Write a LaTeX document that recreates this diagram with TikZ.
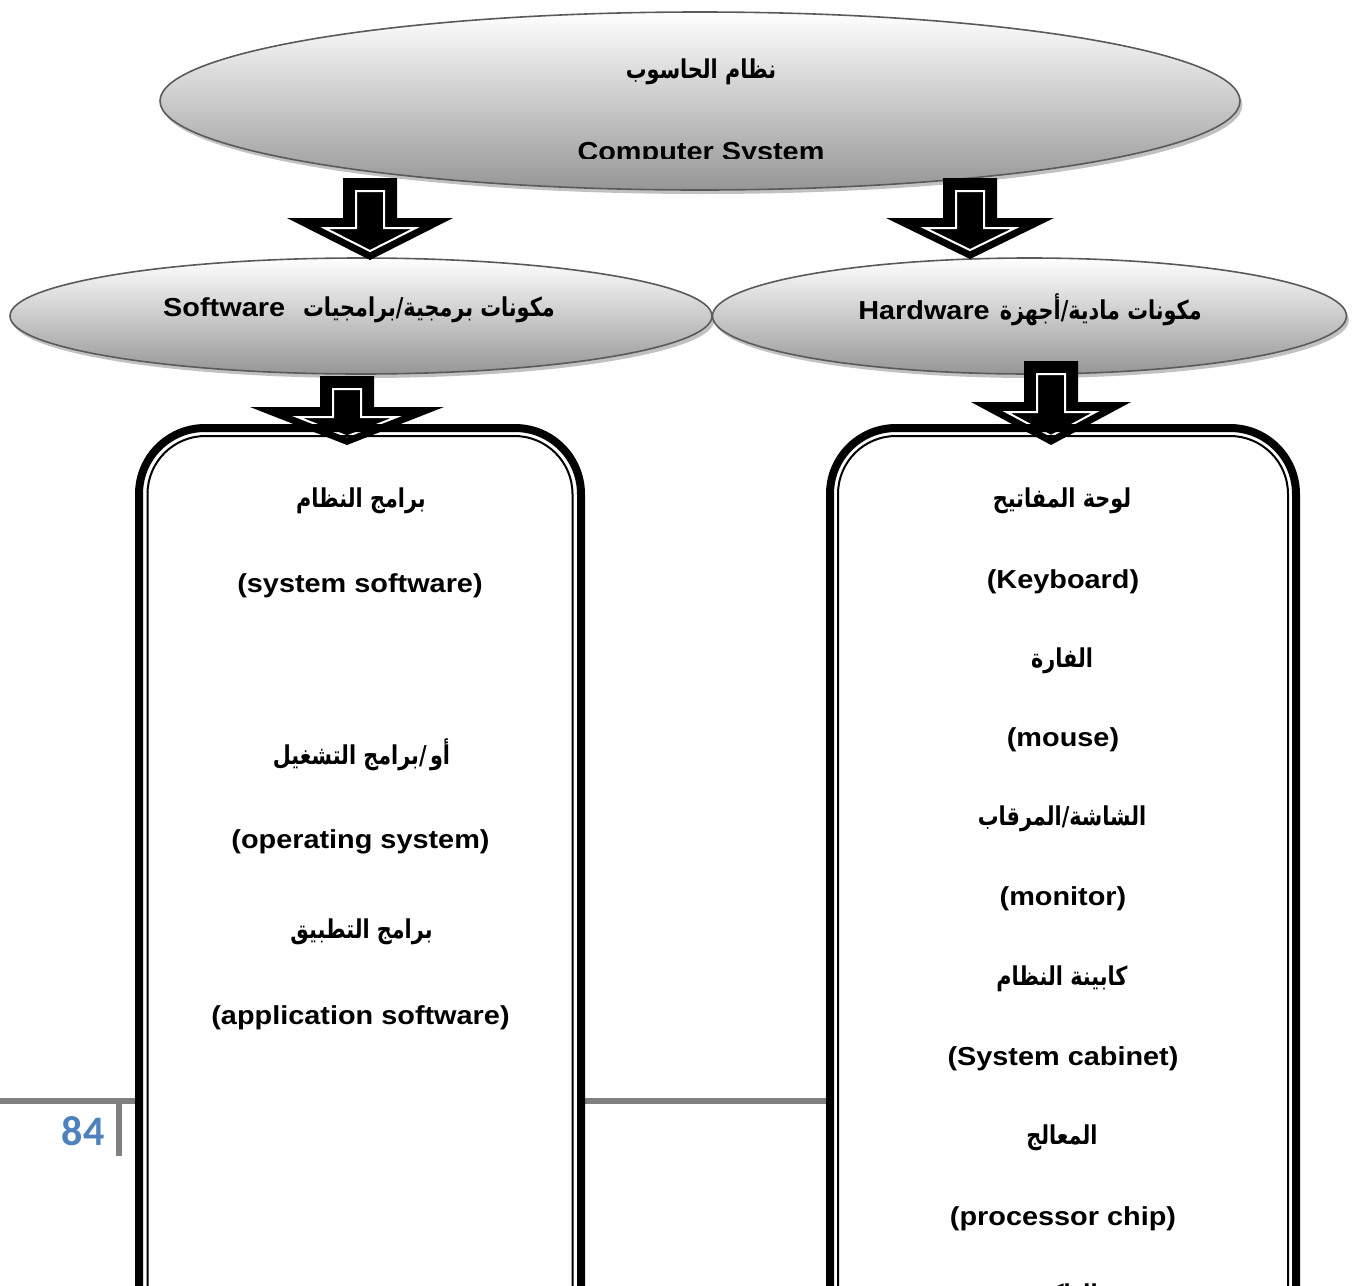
\documentclass[tikz,border=0pt]{standalone}
\usepackage{graphicx}
\usepackage{fontspec}
\setmainfont{Liberation Sans}[FakeStretch=1.11]
\newfontfamily\arabicfont[Script=Arabic]{DejaVu Sans}
\newfontfamily\numfont{Carlito}
\TeXXeTstate=1
\usetikzlibrary{shapes.geometric,shadows}
\definecolor{pgblue}{HTML}{4F81BD}
\definecolor{rulec}{HTML}{808080}
\definecolor{ovalborder}{HTML}{5A5A5A}
\definecolor{ovalbottom}{HTML}{969696}
\newcommand\LatB{\rmfamily\bfseries\fontsize{13}{15}\selectfont}
\newcommand\AR[1]{\scalebox{0.88}[1.1]{\arabicfont\bfseries\fontsize{11.8}{14}\selectfont\beginR #1\endR}}
\newcommand\blkarrow[6]{% cx, ytop, shaft half width, head base y, head half width, tip y
  \pgfmathsetmacro\BAs{(#6-#4)/#5}%
  \pgfmathsetmacro\BAtipi{#6-8*sqrt(1+\BAs*\BAs)}%
  \pgfmathsetmacro\BAbi{#4+10}%
  \pgfmathsetmacro\BAwi{(\BAtipi-\BAbi)/\BAs}%
  \pgfmathsetmacro\BAswi{#3-13}%
  \fill[black] (#1-#3,#2) -- (#1+#3,#2) -- (#1+#3,#4) -- (#1+#5,#4) -- (#1,#6) -- (#1-#5,#4) -- (#1-#3,#4) -- cycle;
  \draw[white, line width=1pt, line join=miter] (#1-\BAswi,#2+13) -- (#1+\BAswi,#2+13) -- (#1+\BAswi,\BAbi) -- (#1+\BAwi,\BAbi) -- (#1,\BAtipi) -- (#1-\BAwi,\BAbi) -- (#1-\BAswi,\BAbi) -- cycle;
}
\begin{document}
\begin{tikzpicture}[x=0.5pt,y=-0.5pt,
  lat/.style={font=\LatB, inner sep=0pt},
  arb/.style={inner sep=0pt},
  oval/.style={ellipse, draw=ovalborder, line width=0.8pt, top color=white, bottom color=ovalbottom, inner sep=0pt,
    drop shadow={shadow xshift=1.2pt, shadow yshift=-2pt, fill=black!30, opacity=0.8}},
  boxfill/.style={fill=white, rounded corners=33pt},
  boxouter/.style={line width=4pt, rounded corners=33pt},
  boxinner/.style={line width=1pt, rounded corners=29pt},
  pgnum/.style={font=\numfont\bfseries\fontsize{21}{24}\selectfont, text=pgblue, inner sep=0pt}]
\useasboundingbox (0,0) rectangle (1357,1286);
\clip (0,0) rectangle (1357,1286);

% footer rule and page number
\draw[rulec, line width=2.8pt] (0,1101) -- (830,1101);
\draw[rulec, line width=3pt] (119,1101) -- (119,1156);
\node[pgnum] (pg) at (83,1131) {84};

% ovals
\node[oval, minimum width=540pt, minimum height=89pt] (sys) at (700,101) {};
\node[oval, minimum width=351pt, minimum height=58pt] (sw) at (361,316) {};
\node[oval, minimum width=317pt, minimum height=58pt] (hw) at (1029.5,316) {};

% box fills
\fill[boxfill] (139,1320) -- (139,428) -- (581,428) -- (581,1320) -- cycle;
\fill[boxfill] (830,1320) -- (830,428) -- (1296,428) -- (1296,1320) -- cycle;

% block arrows
\blkarrow{370}{178}{27}{218}{83}{260}
\blkarrow{970}{178}{27}{218}{84}{259}
\blkarrow{347}{376}{27}{407}{97}{445}
\blkarrow{1051}{361}{27}{402}{80}{445}

% box borders
\draw[boxouter] (139,1320) -- (139,428) -- (581,428) -- (581,1320);
\draw[boxinner] (147.5,1320) -- (147.5,436) -- (572.5,436) -- (572.5,1320);
\draw[boxouter] (830,1320) -- (830,428) -- (1296,428) -- (1296,1320);
\draw[boxinner] (838,1320) -- (838,436) -- (1288,436) -- (1288,1320);

% top oval texts
\node[arb] (sysar) at (701,72) {\AR{نظام الحاسوب}};
\begin{scope}
\clip (0,0) rectangle (1357,158.5);
\node[lat, anchor=base] (sysen) at (701,160) {Computer System};
\end{scope}

% second level texts (Latin word at the left, Arabic to its right)
\node[arb] (swt) at (359,310) {{\LatB Software}\hspace{9pt}\AR{مكونات برمجية/برامجيات}};
\node[arb] (hwt) at (1030,310) {{\LatB Hardware}\hspace{5pt}\AR{مكونات مادية/أجهزة}};

% software box
\node[arb] (s1) at (361,501) {\AR{برامج النظام}};
\node[lat] (s2) at (360,586) {(system software)};
\node[arb] (s3) at (361.5,755) {\AR{أو\,/برامج التشغيل}};
\node[lat] (s4) at (360.5,842) {(operating system)};
\node[arb] (s5) at (361.5,932) {\AR{برامج التطبيق}};
\node[lat] (s6) at (360.5,1018) {(application software)};

% hardware box
\node[arb] (h1) at (1062,501) {\AR{لوحة المفاتيح}};
\node[lat] (h2) at (1063,582) {(Keyboard)};
\node[arb] (h3) at (1062,661) {\AR{الفارة}};
\node[lat] (h4) at (1063,740) {(mouse)};
\node[arb] (h5) at (1062,819) {\AR{الشاشة/المرقاب}};
\node[lat] (h6) at (1063,899) {(monitor)};
\node[arb] (h7) at (1062,979) {\AR{كابينة النظام}};
\node[lat] (h8) at (1063,1059) {(System cabinet)};
\node[arb] (h9) at (1062,1138) {\AR{المعالج}};
\node[lat] (h10) at (1063,1219) {(processor chip)};
\node[arb] (h11) at (1062,1297) {\AR{الذاكرة}};
\end{tikzpicture}
\end{document}
